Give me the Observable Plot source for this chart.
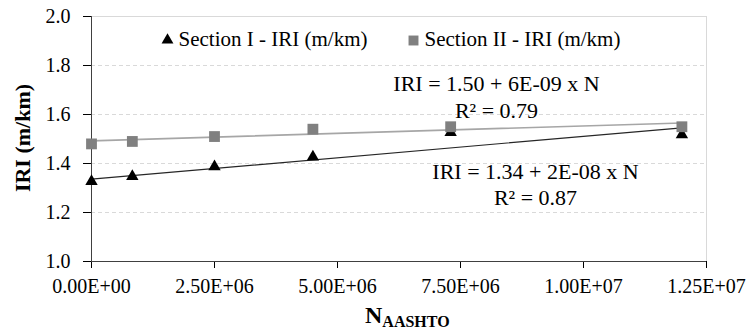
<!DOCTYPE html>
<html>
<head>
<meta charset="utf-8">
<script src="https://cdn.jsdelivr.net/npm/d3@7"></script>
<script src="https://cdn.jsdelivr.net/npm/@observablehq/plot@0.6"></script>
<style>
  html, body { margin: 0; padding: 0; background: #fff; }
  #chart svg { display: block; }
  #chart svg, #chart svg text { font-family: "Liberation Serif", "Times New Roman", serif !important; }
</style>
</head>
<body>
<div id="chart"></div>
<script>
// ---- data ----
const nAashto = [0, 8.3e5, 2.5e6, 4.5e6, 7.3e6, 1.2e7];
const iriSection1 = [1.32, 1.34, 1.38, 1.42, 1.52, 1.51];
const iriSection2 = [1.48, 1.49, 1.51, 1.54, 1.55, 1.55];
const seriesNames = ["Section I - IRI (m/km)", "Section II - IRI (m/km)"];
const xTicks = [0, 2.5e6, 5e6, 7.5e6, 1e7, 1.25e7];
const yTicks = [1.0, 1.2, 1.4, 1.6, 1.8, 2.0];
const equationsSection2 = ["IRI = 1.50 + 6E-09 x N", "R² = 0.79"];
const equationsSection1 = ["IRI = 1.34 + 2E-08 x N", "R² = 0.87"];
const yTitle = "IRI (m/km)";
const xTitleMain = "N";
const xTitleSub = "AASHTO";

const s1 = nAashto.map((n, i) => ({n, iri: iriSection1[i]}));
const s2 = nAashto.map((n, i) => ({n, iri: iriSection2[i]}));

const fmtE = v => {
  const [m, e] = v.toExponential(2).split("e");
  const sign = e[0] === "-" ? "-" : "+";
  return `${m}E${sign}${e.replace(/^[+-]/, "").padStart(2, "0")}`;
};

const serif = "Liberation Serif, Times New Roman, serif";
const axisColor = "#404040";
const gridColor = "#d9d9d9";

const label = (txt, dx, dy, size, anchor) =>
  Plot.text([txt], {frameAnchor: "top-left", dx, dy, text: d => d, textAnchor: anchor, lineAnchor: "middle", fontSize: size, fill: "#000"});

const chart = Plot.plot({
  width: 748,
  height: 331,
  marginLeft: 91,
  marginRight: 42,
  marginTop: 16,
  marginBottom: 70,
  style: {fontSize: "20px", color: "#000", background: "#fff"},
  x: {domain: [0, 1.25e7], ticks: xTicks, tickFormat: fmtE, tickSize: 7, tickPadding: 10, label: null},
  y: {domain: [1, 2], ticks: yTicks, tickFormat: d => d.toFixed(1), tickSize: 8, tickPadding: 13, label: null},
  marks: [
    Plot.ruleY(yTicks.slice(1, -1), {stroke: gridColor, strokeDasharray: "4,3"}),
    Plot.ruleY([yTicks[yTicks.length - 1]], {stroke: gridColor}),
    Plot.ruleX([xTicks[xTicks.length - 1]], {stroke: gridColor}),
    Plot.ruleX([xTicks[0]], {stroke: axisColor}),
    Plot.ruleY([yTicks[0]], {stroke: axisColor}),
    Plot.linearRegressionY(s1, {x: "n", y: "iri", stroke: "#262626", strokeWidth: 1.2, ci: 0}),
    Plot.linearRegressionY(s2, {x: "n", y: "iri", stroke: "#a6a6a6", strokeWidth: 1.6, ci: 0}),
    Plot.dot(s1, {x: "n", y: "iri", symbol: "triangle", r: 4.6, fill: "#000", stroke: null, dy: -1.8}),
    Plot.dot(s2, {x: "n", y: "iri", symbol: "square", r: 6.1, fill: "#808080", stroke: null}),
    // legend
    Plot.dot([seriesNames[0]], {frameAnchor: "top-left", dx: 76, dy: 23.5, symbol: "triangle", r: 4.4, fill: "#000", stroke: null}),
    label(seriesNames[0], 87, 23, 21, "start"),
    Plot.dot([seriesNames[1]], {frameAnchor: "top-left", dx: 322, dy: 24, symbol: "square", r: 5.6, fill: "#808080", stroke: null}),
    label(seriesNames[1], 333, 23, 21, "start"),
    // trendline equations
    label(equationsSection2[0], 405, 67, 22, "middle"),
    label(equationsSection2[1], 405, 94, 22, "middle"),
    label(equationsSection1[0], 444, 155, 22, "middle"),
    label(equationsSection1[1], 444, 181, 22, "middle")
  ]
});

// axis titles (real text)
const svg = d3.select(chart);
svg.append("text")
  .attr("transform", "translate(30,138) rotate(-90)")
  .attr("text-anchor", "middle")
  .attr("font-family", serif)
  .attr("font-weight", "bold")
  .attr("font-size", 22)
  .attr("fill", "#000")
  .text(yTitle);
const xt = svg.append("text")
  .attr("x", 365)
  .attr("y", 323)
  .attr("text-anchor", "start")
  .attr("font-family", serif)
  .attr("font-weight", "bold")
  .attr("fill", "#000");
xt.append("tspan").attr("font-size", 24).text(xTitleMain);
xt.append("tspan").attr("font-size", 16).attr("dy", 4).text(xTitleSub);

document.getElementById("chart").append(chart);
</script>
</body>
</html>
